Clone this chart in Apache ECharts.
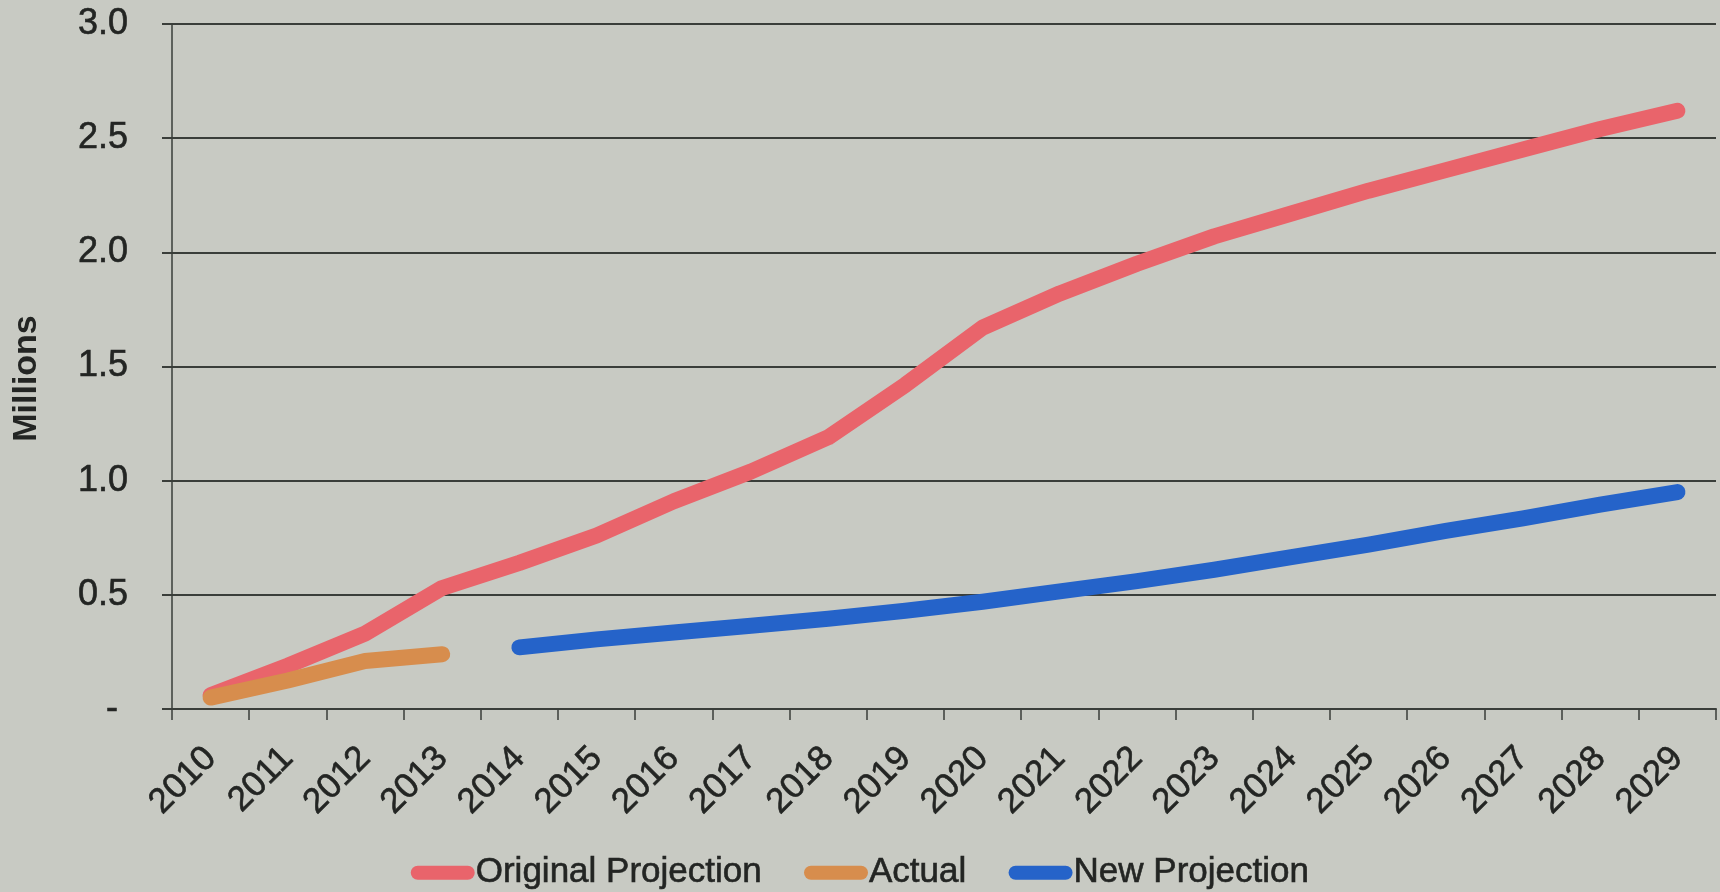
<!DOCTYPE html>
<html>
<head>
<meta charset="utf-8">
<title>Projection vs Actual (Millions)</title>
<script src="https://cdn.jsdelivr.net/npm/echarts@6/dist/echarts.min.js"></script>
<style>
  html, body { margin: 0; padding: 0; background: #c8cac3; }
  #chart { width: 1720px; height: 892px; }
</style>
</head>
<body>
<div id="chart"></div>
<script>
// Years along the x axis
const years = ['2010', '2011', '2012', '2013', '2014', '2015', '2016', '2017', '2018', '2019',
               '2020', '2021', '2022', '2023', '2024', '2025', '2026', '2027', '2028', '2029'];

// Values in millions
const originalProjection = [0.06, 0.19, 0.33, 0.53, 0.64, 0.76, 0.91, 1.04, 1.19, 1.42,
                            1.67, 1.82, 1.95, 2.07, 2.17, 2.27, 2.36, 2.45, 2.54, 2.62];
const actual = [0.05, 0.125, 0.21, 0.24, null, null, null, null, null, null,
                null, null, null, null, null, null, null, null, null, null];
const newProjection = [null, null, null, null, 0.27, 0.305, 0.335, 0.365, 0.395, 0.43,
                       0.47, 0.515, 0.56, 0.61, 0.665, 0.72, 0.78, 0.835, 0.895, 0.95];

const seriesNames = ['Original Projection', 'Actual', 'New Projection'];
const seriesColors = ['#e9646b', '#d78d4d', '#2563c9'];

const FONT = "'Liberation Sans', Arial, sans-serif";
const INK = '#232523';
const RULE = '#3a3e3a';

const chart = echarts.init(document.getElementById('chart'));

function lineSeries(name, data, color) {
  return {
    name: name,
    type: 'line',
    data: data,
    showSymbol: false,
    connectNulls: false,
    color: color,
    lineStyle: { width: 16, color: color, cap: 'round', join: 'round' },
    emphasis: { disabled: true }
  };
}

// slightly heavier glyphs, like printed ink
const inked = { textBorderColor: INK, textBorderWidth: 0.6 };

chart.setOption({
  backgroundColor: '#c8cac3',
  animation: false,
  textStyle: { fontFamily: FONT, color: INK },
  grid: { left: 172, right: 4, top: 24, bottom: 183, containLabel: false },
  legend: {
    data: seriesNames,
    top: 850,
    left: 'center',
    itemWidth: 64,
    itemHeight: 14,
    itemGap: 42,
    icon: 'path://M7,0 L57,0 A7,7 0 0 1 57,14 L7,14 A7,7 0 0 1 7,0 Z',
    textStyle: Object.assign({ fontFamily: FONT, fontSize: 35, color: INK, padding: [0, 0, 0, -4] }, inked)
  },
  xAxis: {
    type: 'category',
    data: years,
    boundaryGap: true,
    axisLine: { lineStyle: { color: RULE, width: 2 } },
    axisTick: { show: true, inside: false, length: 11, alignWithLabel: false,
                lineStyle: { color: RULE, width: 1.5 } },
    axisLabel: Object.assign({ interval: 0, rotate: 45, margin: 44, fontSize: 35, color: INK, fontFamily: FONT }, inked),
    splitLine: { show: false }
  },
  yAxis: {
    type: 'value',
    min: 0,
    max: 3,
    interval: 0.5,
    name: 'Millions',
    nameLocation: 'middle',
    nameRotate: 90,
    nameGap: 128,
    nameTextStyle: { fontSize: 34, fontWeight: 'bold', color: INK, fontFamily: FONT, padding: [0, 24, 0, 0] },
    axisLine: { show: true, lineStyle: { color: RULE, width: 1.5 } },
    axisTick: { show: true, inside: false, length: 10, lineStyle: { color: RULE, width: 2 } },
    axisLabel: Object.assign({
      margin: 44,
      fontSize: 36,
      color: INK,
      fontFamily: FONT,
      formatter: function (v) { return v === 0 ? '- ' : v.toFixed(1); }
    }, inked),
    splitLine: { show: true, lineStyle: { color: RULE, width: 2 } }
  },
  series: [
    lineSeries(seriesNames[0], originalProjection, seriesColors[0]),
    lineSeries(seriesNames[1], actual, seriesColors[1]),
    lineSeries(seriesNames[2], newProjection, seriesColors[2])
  ]
});
</script>
</body>
</html>
